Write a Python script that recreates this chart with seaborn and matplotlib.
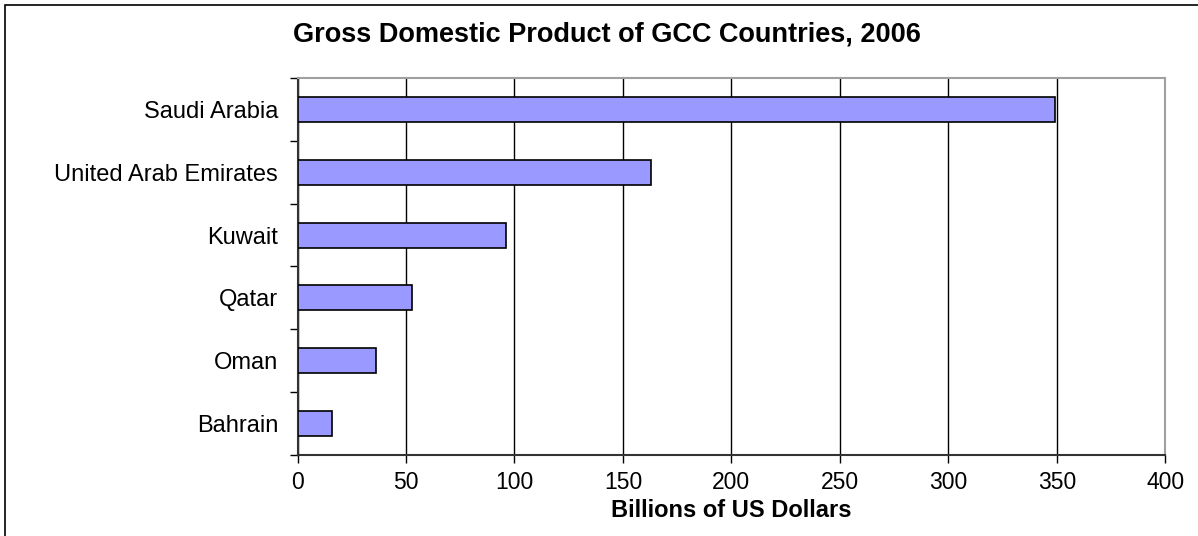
import matplotlib
matplotlib.use("Agg")
import matplotlib.pyplot as plt
import seaborn as sns
import pandas as pd
from matplotlib.patches import Rectangle
from matplotlib.ticker import FixedLocator, NullFormatter

countries = ["Saudi Arabia", "United Arab Emirates", "Kuwait", "Qatar", "Oman", "Bahrain"]
gdp = [349.1, 163.0, 95.9, 52.6, 36.2, 15.8]
x_ticks = [0, 50, 100, 150, 200, 250, 300, 350, 400]

title = "Gross Domestic Product of GCC Countries, 2006"
xlabel = "Billions of US Dollars"

df = pd.DataFrame({"country": countries, "gdp": gdp})

sns.set_theme(style="white")
plt.rcParams["font.family"] = ["Liberation Sans", "DejaVu Sans"]
plt.rcParams["text.color"] = "black"
plt.rcParams["axes.labelcolor"] = "black"
plt.rcParams["xtick.color"] = "black"
plt.rcParams["ytick.color"] = "black"

W, H = 1198, 536
fig = plt.figure(figsize=(W / 100, H / 100), dpi=100)
ax = fig.add_axes([297.5 / W, 1 - 454.7 / H, (1165.3 - 297.5) / W, (454.7 - 78.3) / H])

sns.barplot(data=df, x="gdp", y="country", orient="h", color="#9999FF",
            saturation=1, edgecolor="black", linewidth=1.2, width=0.4, ax=ax, zorder=3)

ax.set_xlim(0, 400)
ax.set_ylim(len(countries) - 0.5, -0.5)
ax.set_xticks(x_ticks)
ax.set_xticklabels([str(t) for t in x_ticks], fontsize=16.5, color="black")
ax.set_yticks(range(len(countries)))
ax.set_yticklabels(countries, fontsize=17, color="black")
ax.yaxis.set_minor_locator(FixedLocator([i - 0.5 for i in range(len(countries) + 1)]))
ax.yaxis.set_minor_formatter(NullFormatter())
ax.tick_params(axis="y", which="major", length=0, pad=14)
ax.tick_params(axis="y", which="minor", left=True, length=6, width=1, color="black", direction="out")
ax.tick_params(axis="x", which="major", bottom=True, length=6, width=1, color="black", direction="out", pad=6)

ax.grid(axis="x", color="black", linewidth=1, zorder=0)
ax.grid(axis="y", visible=False)
ax.set_axisbelow(True)

for side in ["top", "right"]:
    ax.spines[side].set_color("#a0a0a0")
    ax.spines[side].set_linewidth(1.5)
for side in ["left", "bottom"]:
    ax.spines[side].set_color("#333333")
    ax.spines[side].set_linewidth(1.5)

ax.set_ylabel("")
ax.set_xlabel(xlabel, fontsize=17, fontweight="bold", labelpad=3, color="black")

fig.text(606.5 / W, 1 - 35 / H, title, ha="center", va="center", fontsize=19.5,
         fontweight="bold", color="black")

fig.patches.append(Rectangle((5 / W, -0.1), 1.2, 1 - 5.3 / H + 0.1, transform=fig.transFigure,
                             fill=False, edgecolor="black", linewidth=1.2))

fig.savefig("out.png", dpi=100)
